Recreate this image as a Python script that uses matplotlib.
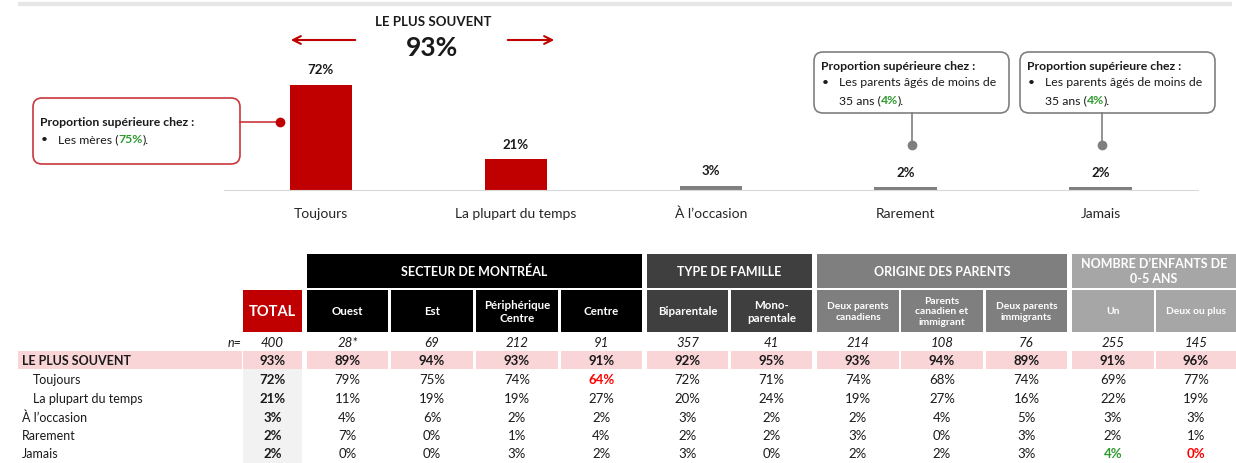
import matplotlib
matplotlib.use("Agg")
import matplotlib.pyplot as plt
from matplotlib.patches import Rectangle, FancyBboxPatch

plt.rcParams['font.family'] = ['Lato', 'DejaVu Sans']

# ---- data ----
categories = ['Toujours', 'La plupart du temps', 'À l’occasion', 'Rarement', 'Jamais']
values = [72, 21, 3, 2, 2]
total_top = 93

groups = ['SECTEUR DE MONTRÉAL', 'TYPE DE FAMILLE', 'ORIGINE DES PARENTS',
          'NOMBRE D’ENFANTS DE\n0-5 ANS']
columns = ['TOTAL', 'Ouest', 'Est', 'Périphérique\nCentre', 'Centre', 'Biparentale',
           'Mono-\nparentale', 'Deux parents\ncanadiens', 'Parents\ncanadien et\nimmigrant',
           'Deux parents\nimmigrants', 'Un', 'Deux ou plus']
n_values = ['400', '28*', '69', '212', '91', '357', '41', '214', '108', '76', '255', '145']
row_labels = ['LE PLUS SOUVENT', 'Toujours', 'La plupart du temps', 'À l’occasion',
              'Rarement', 'Jamais']
plus_souvent = [93, 89, 94, 93, 91, 92, 95, 93, 94, 89, 91, 96]
toujours = [72, 79, 75, 74, 64, 72, 71, 74, 68, 74, 69, 77]
plupart = [21, 11, 19, 19, 27, 20, 24, 19, 27, 16, 22, 19]
occasion = [3, 4, 6, 2, 2, 3, 2, 2, 4, 5, 3, 3]
rarement = [2, 7, 0, 1, 4, 2, 2, 3, 0, 3, 2, 1]
jamais = [2, 0, 0, 3, 2, 3, 0, 2, 2, 3, 4, 0]
table_rows = [plus_souvent, toujours, plupart, occasion, rarement, jamais]

# highlighted cells (row, col): colour
highlights = {(1, 4): '#ff0000', (5, 10): '#2e9a2e', (5, 11): '#ff0000'}

# ---- layout (pixels) ----
W, H = 1236, 464
RED = '#c00000'
GRAY = '#7f7f7f'
GREEN = '#2e9a2e'
dark = '#1a1a1a'
col_left = [243, 307, 391, 476, 561, 647, 731, 817, 901, 986, 1072, 1156]
col_right = [302, 388, 473, 558, 642, 728, 812, 899, 983, 1067, 1154, 1236]
group_span = [(1, 4), (5, 6), (7, 9), (10, 11)]
group_color = ['#000000', '#3f3f3f', '#7f7f7f', '#a6a6a6']
row_y = [361, 380, 399, 418, 436, 454]

fig = plt.figure(figsize=(W / 100, H / 100), dpi=100)
ax = fig.add_axes([0, 0, 1, 1])
ax.set_xlim(0, W)
ax.set_ylim(H, 0)
ax.axis('off')

# top rule
ax.plot([18, 1232], [5, 5], color='#e6e6e6', lw=3, solid_capstyle='butt')

# ---- bar chart ----
bx = fig.add_axes([223.5 / W, (H - 191) / H, 974.5 / W, 117 / H])
bar_colors = [RED, RED, GRAY, GRAY, GRAY]
bx.bar(range(len(values)), values, width=0.32, color=bar_colors)
bx.set_xlim(-0.5, 4.5)
bx.set_ylim(0, 80)
for i, v in enumerate(values):
    bx.annotate(f'{v}%', (i, v), xytext=(0, 11), textcoords='offset points',
                ha='center', va='center', fontsize=9.5, fontweight='bold', color=dark)
for s in ['top', 'left', 'right']:
    bx.spines[s].set_visible(False)
bx.spines['bottom'].set_color('#d9d9d9')
bx.set_yticks([])
bx.set_xticks(range(len(categories)), categories, fontsize=10, color='#262626')
bx.tick_params(axis='x', length=0, pad=12)
bx.patch.set_alpha(0)

# "le plus souvent" header with arrows
ax.text(433, 22, 'LE PLUS SOUVENT', ha='center', va='center', fontsize=9.5,
        fontweight='bold', color=dark)
ax.text(432, 48, f'{total_top}%', ha='center', va='center', fontsize=19,
        fontweight='bold', color=dark)
ax.annotate('', xy=(288, 41), xytext=(358, 41),
            arrowprops=dict(arrowstyle='->', color=RED, lw=1.5, mutation_scale=14))
ax.annotate('', xy=(557, 41), xytext=(505, 41),
            arrowprops=dict(arrowstyle='->', color=RED, lw=1.5, mutation_scale=14))


def rich(x, y, parts, size=8.8):
    t = ax.text(x, y, parts[0][0], color=parts[0][1], fontweight=parts[0][2],
                ha='left', va='center', fontsize=size)
    for s, c, w in parts[1:]:
        t = ax.annotate(s, xy=(1, 0), xycoords=t, ha='left', va='bottom',
                        color=c, fontweight=w, fontsize=size)


def callout(x0, y0, x1, y1, edge, lines, first):
    ax.add_patch(FancyBboxPatch((x0, y0), x1 - x0, y1 - y0,
                                boxstyle='round,pad=0,rounding_size=9',
                                fc='white', ec=edge, lw=1.2))
    ax.text(x0 + 7, y0 + first, 'Proportion supérieure chez :', fontsize=8.8,
            fontweight='bold', va='center', color=dark)
    ax.text(x0 + 8, y0 + first + 17, '•', fontsize=8.8, va='center', color=dark)
    for k, parts in enumerate(lines):
        rich(x0 + 25, y0 + first + 17 + 17.5 * k, parts)


callout(33, 99, 240, 165, '#c9373c',
        [[('Les mères (', dark, 'normal'), ('75%', GREEN, 'bold'), (').', dark, 'normal')]], 24)
ax.plot([240, 280], [123, 123], color='#c9373c', lw=1.2)
ax.plot(280, 123, 'o', color=RED, ms=6)
for (x0, x1, xc) in [(814, 1009, 912), (1020, 1215, 1102)]:
    callout(x0, 53, x1, 114, GRAY,
            [[('Les parents âgés de moins de', dark, 'normal')],
             [('35 ans (', dark, 'normal'), ('4%', GREEN, 'bold'), (').', dark, 'normal')]], 13)
    ax.plot([xc, xc], [114, 146], color=GRAY, lw=1.2)
    ax.plot(xc, 146, 'o', color=GRAY, ms=6)

# ---- table ----
# group headers
for (a, b), g, c in zip(group_span, groups, group_color):
    ax.add_patch(Rectangle((col_left[a], 255), col_right[b] - col_left[a], 34, color=c, lw=0))
    ax.text((col_left[a] + col_right[b]) / 2, 272, g, ha='center', va='center',
            color='white', fontweight='bold', fontsize=9, linespacing=1.3)
# sub headers
sub_color = [RED] + [group_color[0]] * 4 + [group_color[1]] * 2 + [group_color[2]] * 3 + [group_color[3]] * 2
for j, name in enumerate(columns):
    ax.add_patch(Rectangle((col_left[j], 291), col_right[j] - col_left[j], 42, color=sub_color[j], lw=0))
    fs = 10.5 if j == 0 else (7.4 if j >= 7 else 8.3)
    ax.text((col_left[j] + col_right[j]) / 2, 312, name, ha='center', va='center', color='white',
            fontweight='bold', fontsize=fs, linespacing=1.2)

# n= row
ax.text(241, 343, 'n=', ha='right', va='center', style='italic', fontsize=9, color=dark)
for j, nv in enumerate(n_values):
    ax.text((col_left[j] + col_right[j]) / 2, 343, nv, ha='center', va='center',
            style='italic', fontsize=9.5, color=dark)

# shaded backgrounds
ax.add_patch(Rectangle((18, 352), 224, 17.5, color='#f9d5d7', lw=0))
for j in range(len(columns)):
    ax.add_patch(Rectangle((col_left[j], 352), col_right[j] - col_left[j], 17.5, color='#f9d5d7', lw=0))
ax.add_patch(Rectangle((col_left[0], 370), col_right[0] - col_left[0], H - 370, color='#f2f2f2', lw=0))

for i, (lab, vals) in enumerate(zip(row_labels, table_rows)):
    indent = 33 if i in (1, 2) else 22
    ax.text(indent, row_y[i], lab, ha='left', va='center', fontsize=9,
            fontweight='bold' if i == 0 else 'normal', color=dark)
    for j, v in enumerate(vals):
        color = highlights.get((i, j), dark)
        bold = i == 0 or j == 0 or (i, j) in highlights
        ax.text((col_left[j] + col_right[j]) / 2, row_y[i], f'{v}%', ha='center', va='center',
                fontsize=9.5, fontweight='bold' if bold else 'normal', color=color)

fig.savefig('out.png', dpi=100)
